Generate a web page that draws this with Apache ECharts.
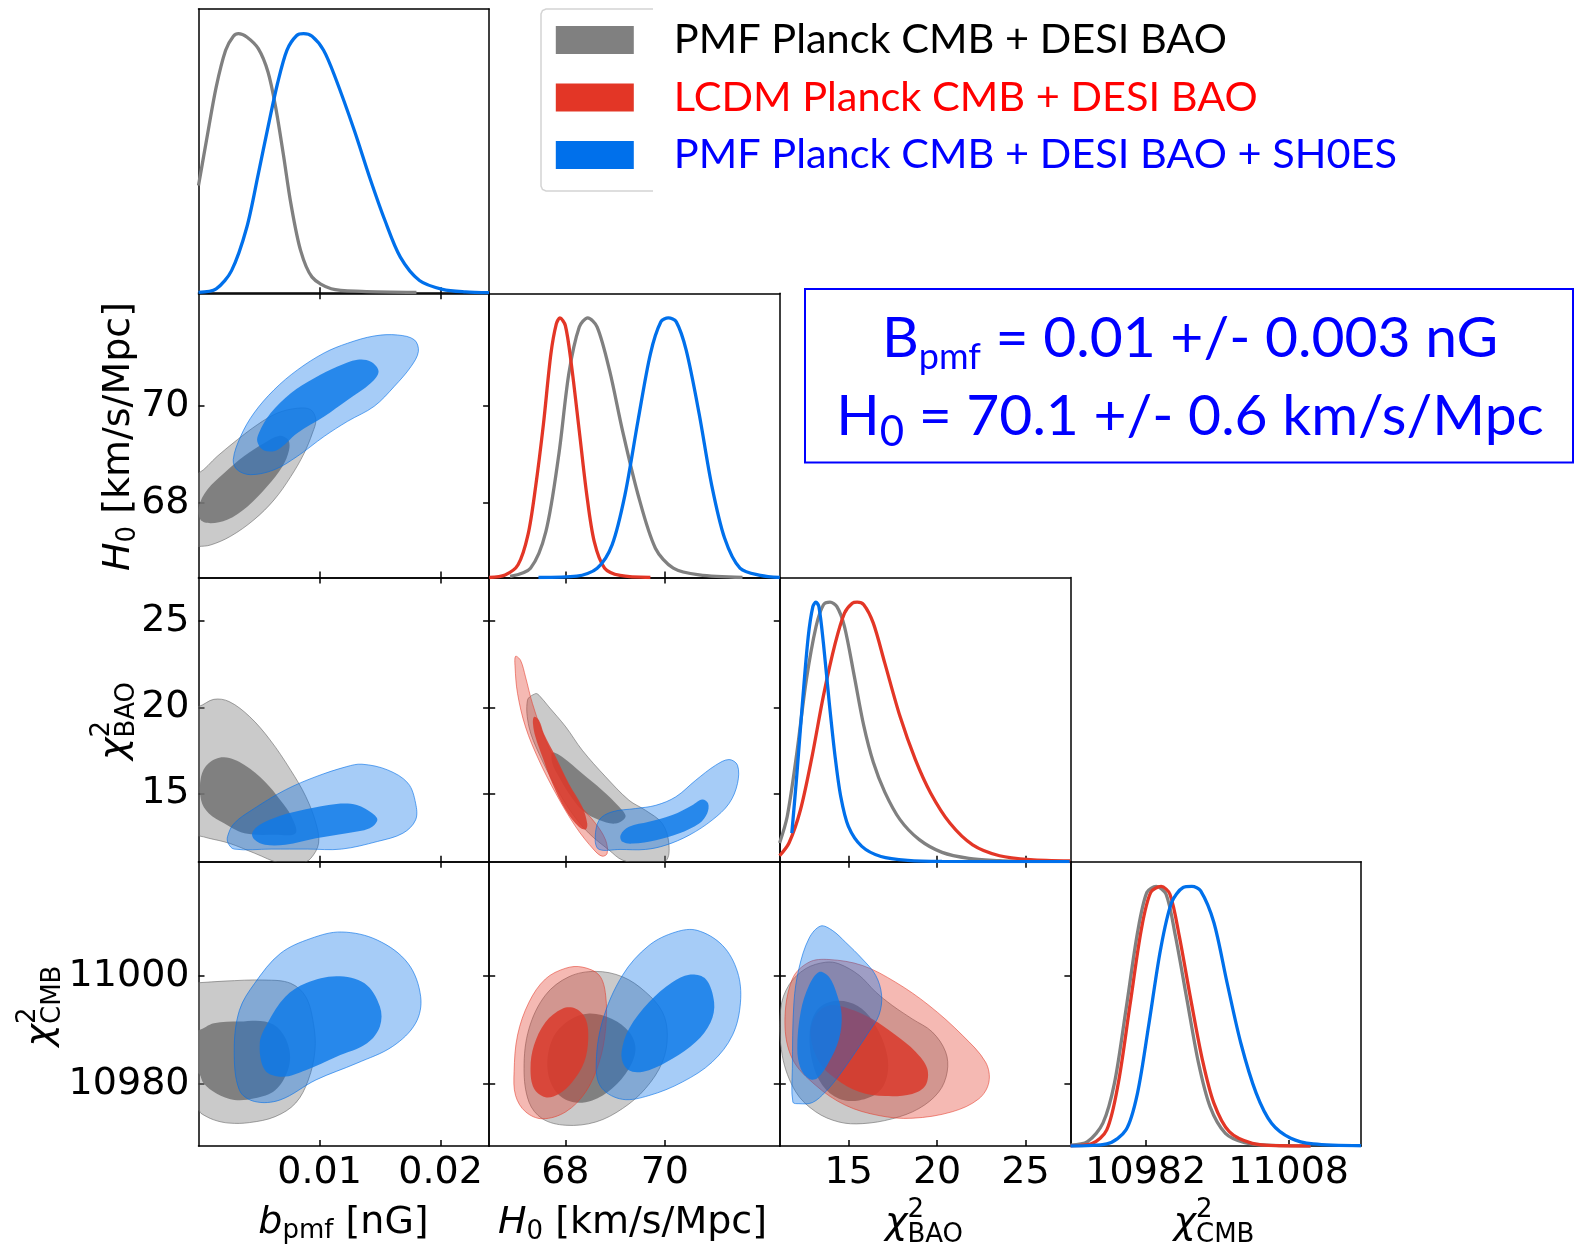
<!DOCTYPE html>
<html><head><meta charset="utf-8">
<script src="https://cdn.jsdelivr.net/npm/echarts@6/dist/echarts.min.js"></script>
<style>html,body{margin:0;padding:0;background:#fff}#c{width:1574px;height:1248px}</style>
</head><body><div id="c"></div>
<script>
// ---------------- data ----------------
const seriesNames = ['PMF Planck CMB + DESI BAO', 'LCDM Planck CMB + DESI BAO', 'PMF Planck CMB + DESI BAO + SH0ES'];
const legendTextColors = ['#000000', '#ff0000', '#0000ff'];

const bpmfTicks = [0.01, 0.02];
const h0Ticks = [68, 70];
const chiBaoTicks = [15, 20, 25];
const chiCmbTicksX = [10982, 11008];
const chiCmbTicksY = [10980, 11000];

const bpmfRange = [0, 0.024];
const h0RangeX = [66.47, 72.31];
const h0RangeY = [66.46, 72.32];
const baoRangeX = [11.10, 27.54];
const baoRangeY = [11.05, 27.52];
const cmbRangeX = [10968.3, 11021.2];
const cmbRangeY = [10968.46, 11021.1];
const pdfMax = 1.095;

// 1D marginals (normalised to peak 1)
const pdf_bpmf_pmf = [[0,0.415],[0.00066,0.589],[0.00146,0.794],[0.00224,0.936],[0.00288,0.99],[0.0033,1.0],[0.00399,0.987],[0.00494,0.942],[0.00574,0.852],[0.00637,0.717],[0.0070,0.537],[0.00763,0.345],[0.00843,0.165],[0.00938,0.062],[0.01096,0.017],[0.01349,0.007],[0.018,0.003]];
const pdf_bpmf_shoes = [[0,0.003],[0.00146,0.017],[0.00273,0.087],[0.00399,0.254],[0.00494,0.46],[0.00574,0.64],[0.00652,0.807],[0.0073,0.936],[0.00811,0.993],[0.00868,1.0],[0.00938,0.99],[0.01033,0.936],[0.01128,0.833],[0.01287,0.627],[0.01413,0.447],[0.0154,0.28],[0.01667,0.139],[0.01825,0.049],[0.02015,0.015],[0.02205,0.005],[0.024,0.002]];

const pdf_h0_lcdm = [[66.47,0.0],[66.79,0.01],[67.05,0.049],[67.25,0.165],[67.40,0.346],[67.56,0.591],[67.71,0.862],[67.82,0.978],[67.89,1.0],[68.0,0.971],[68.12,0.823],[68.28,0.565],[68.43,0.32],[68.58,0.139],[68.79,0.036],[69.10,0.008],[69.71,0.0]];
const pdf_h0_pmf = [[66.89,0.004],[67.30,0.036],[67.61,0.178],[67.87,0.475],[68.07,0.785],[68.28,0.965],[68.45,1.0],[68.64,0.965],[68.89,0.797],[69.15,0.565],[69.46,0.32],[69.81,0.113],[70.17,0.036],[70.69,0.01],[71.56,0.0]];
const pdf_h0_shoes = [[67.46,0.0],[68.23,0.005],[68.64,0.036],[68.94,0.126],[69.2,0.32],[69.46,0.604],[69.71,0.862],[69.92,0.985],[70.07,1.0],[70.23,0.985],[70.43,0.875],[70.69,0.63],[70.94,0.357],[71.2,0.152],[71.51,0.036],[71.92,0.008],[72.31,0.0]];

const pdf_bao_pmf = [[11.09,0.072],[11.52,0.174],[12.06,0.417],[12.6,0.70],[13.15,0.906],[13.57,0.99],[13.94,1.0],[14.33,0.983],[14.76,0.906],[15.31,0.716],[15.85,0.524],[16.39,0.383],[17.04,0.268],[17.9,0.162],[18.99,0.085],[20.28,0.036],[21.8,0.013],[23.53,0.004],[24.6,0.001]];
const pdf_bao_lcdm = [[11.09,0.023],[11.62,0.072],[12.27,0.2],[12.92,0.404],[13.57,0.64],[14.23,0.84],[14.76,0.958],[15.2,0.996],[15.48,1.0],[15.85,0.99],[16.39,0.919],[17.04,0.765],[17.9,0.56],[18.77,0.393],[19.63,0.265],[20.72,0.149],[22.01,0.065],[23.53,0.023],[25.26,0.008],[27.53,0.003]];
const pdf_bao_shoes = [[11.78,0.11],[12.06,0.332],[12.38,0.611],[12.71,0.868],[12.97,0.983],[13.14,1.0],[13.31,0.983],[13.57,0.84],[13.9,0.611],[14.23,0.404],[14.55,0.25],[14.98,0.136],[15.74,0.059],[16.82,0.02],[18.34,0.005],[20.28,0.001],[27.5,0.0]];

const pdf_cmb_pmf = [[10968.3,0.003],[10971.4,0.017],[10974.2,0.088],[10976.3,0.242],[10978.4,0.526],[10980.5,0.822],[10982.2,0.977],[10983.9,1.0],[10985.7,0.97],[10987.4,0.809],[10989.5,0.564],[10991.6,0.32],[10993.7,0.152],[10996.5,0.049],[11000.0,0.013],[11004.2,0.003],[11012,0.0]];
const pdf_cmb_lcdm = [[10968.3,0.001],[10972.1,0.008],[10974.9,0.062],[10977.0,0.242],[10979.1,0.539],[10981.2,0.835],[10982.9,0.977],[10984.8,1.0],[10986.4,0.97],[10988.1,0.809],[10990.2,0.564],[10992.3,0.333],[10994.4,0.165],[10997.2,0.055],[11001.4,0.01],[11006.3,0.001],[11012,0.0]];
const pdf_cmb_shoes = [[10968.3,0.0],[10974.9,0.008],[10978.4,0.062],[10980.5,0.204],[10982.6,0.474],[10984.7,0.758],[10986.7,0.938],[10988.8,0.996],[10990.4,1.0],[10992.0,0.983],[10994.4,0.861],[10996.8,0.629],[10999.3,0.397],[11002.1,0.204],[11004.9,0.088],[11008.4,0.03],[11012.5,0.008],[11021.2,0.001]];

// 2D contours (68% = 1s, 95% = 2s), vertices in data units
// b_pmf vs H0
const c_bh_pmf_2s = [[-0.001,67.10],[-0.001,68.61],[0,68.61],[0.00155,68.96],[0.0032,69.30],[0.00486,69.61],[0.00651,69.85],[0.00817,69.95],[0.00927,69.92],[0.00969,69.71],[0.00941,69.44],[0.00872,69.02],[0.00762,68.54],[0.00624,68.06],[0.00458,67.65],[0.00265,67.31],[0.00099,67.13],[0,67.10]];
const c_bh_pmf_1s = [[0.00003,67.92],[0.00072,68.27],[0.0021,68.61],[0.00375,68.96],[0.00541,69.23],[0.00665,69.38],[0.0074,69.30],[0.00748,69.09],[0.00693,68.75],[0.00568,68.34],[0.00403,67.92],[0.00237,67.65],[0.00099,67.58],[0.00017,67.65]];
const c_bh_shoes_2s = [[0.00287,68.89],[0.0032,68.68],[0.0043,68.58],[0.00624,68.68],[0.00817,68.96],[0.01038,69.37],[0.01231,69.68],[0.01451,69.99],[0.01617,70.40],[0.01755,70.81],[0.01816,71.12],[0.01783,71.36],[0.01645,71.46],[0.01451,71.44],[0.01231,71.29],[0.01038,71.09],[0.00817,70.74],[0.00624,70.33],[0.00458,69.85],[0.00348,69.37]];
const c_bh_shoes_1s = [[0.00486,69.26],[0.00541,69.08],[0.00651,69.09],[0.00817,69.44],[0.01038,69.78],[0.01231,70.12],[0.01424,70.47],[0.01487,70.71],[0.01424,70.91],[0.01313,70.95],[0.01148,70.81],[0.00955,70.57],[0.00762,70.26],[0.00596,69.85],[0.00499,69.44]];
// b_pmf vs chi2_BAO
const c_bb_pmf_2s = [[-0.001,12.55],[-0.001,20.04],[0,20.04],[0.00127,20.46],[0.00253,20.33],[0.00422,19.46],[0.00591,18.11],[0.0076,16.37],[0.00886,14.83],[0.0097,13.28],[0.00992,12.12],[0.00928,11.25],[0.0085,10.95],[0.0068,10.95],[0.00464,11.54],[0.00253,12.12],[0.00084,12.41],[0,12.55]];
const c_bb_pmf_1s = [[0.00021,15.98],[0.00084,16.76],[0.00211,17.10],[0.0038,16.66],[0.00549,15.69],[0.00675,14.63],[0.00768,13.67],[0.00802,12.70],[0.00633,12.61],[0.0038,12.70],[0.00211,13.28],[0.00084,13.86],[0.00021,14.63]];
const c_bb_shoes_2s = [[0.0024,12.51],[0.00295,13.28],[0.00464,14.15],[0.00717,15.21],[0.0097,15.98],[0.01224,16.56],[0.0135,16.70],[0.01561,16.37],[0.0173,15.60],[0.01793,14.44],[0.01793,13.47],[0.01688,12.70],[0.01477,12.22],[0.01181,11.78],[0.009,11.78],[0.006,11.78],[0.00295,11.78],[0.00245,12.12]];
const c_bb_shoes_1s = [[0.00443,12.70],[0.00506,13.19],[0.00675,13.71],[0.00886,14.09],[0.01139,14.40],[0.01308,14.34],[0.01435,13.86],[0.01477,13.47],[0.01414,12.99],[0.01224,12.70],[0.0097,12.41],[0.00717,12.03],[0.00549,12.03],[0.00464,12.32]];
// H0 vs chi2_BAO
const c_hb_pmf_2s = [[67.40,20.79],[67.24,20.41],[67.27,18.86],[67.47,17.32],[67.81,15.39],[68.14,13.84],[68.48,12.68],[68.88,11.72],[69.15,11.14],[69.6,10.9],[70.02,11.10],[70.08,12.10],[69.95,13.26],[69.61,14.03],[69.28,14.61],[68.81,15.97],[68.34,17.51],[68.01,18.86],[67.67,20.02],[67.47,20.70]];
const c_hb_pmf_1s = [[67.74,17.36],[67.94,17.12],[68.34,16.16],[68.74,15.19],[69.08,14.23],[69.21,13.65],[69.01,13.26],[68.68,13.46],[68.34,14.03],[68.07,15.0],[67.87,15.97],[67.74,16.74]];
const c_hb_lcdm_2s = [[67.0,22.95],[67.10,22.72],[67.20,21.76],[67.34,20.21],[67.60,18.09],[67.94,16.16],[68.27,14.42],[68.61,13.26],[68.81,12.30],[68.84,11.53],[68.74,11.37],[68.58,11.72],[68.21,13.07],[67.81,15.0],[67.47,16.93],[67.20,18.86],[67.04,20.79],[66.99,22.34]];
const c_hb_lcdm_1s = [[67.37,19.44],[67.47,19.25],[67.57,18.47],[67.81,17.12],[68.07,15.58],[68.34,14.23],[68.44,13.26],[68.41,12.92],[68.27,13.07],[68.01,14.03],[67.74,15.58],[67.54,17.12],[67.40,18.28],[67.35,19.05]];
const c_hb_shoes_2s = [[68.60,12.30],[68.68,13.46],[68.94,13.94],[69.41,14.13],[69.82,14.32],[70.22,14.81],[70.62,15.77],[71.02,16.64],[71.29,16.97],[71.46,16.64],[71.46,15.58],[71.29,14.42],[70.95,13.46],[70.49,12.59],[70.02,12.01],[69.61,11.76],[69.1,11.76],[68.68,11.76]];
const c_hb_shoes_1s = [[69.11,12.59],[69.28,13.07],[69.68,13.36],[70.15,13.75],[70.55,14.32],[70.75,14.65],[70.87,14.42],[70.85,13.84],[70.69,13.26],[70.28,12.68],[69.82,12.30],[69.35,12.10],[69.15,12.20]];
// b_pmf vs chi2_CMB
const c_bc_pmf_2s = [[-0.001,10975.1],[-0.001,10998.7],[0,10998.7],[0.00211,10999.0],[0.00549,10999.2],[0.0076,10998.6],[0.00886,10996.1],[0.00949,10991.2],[0.00962,10986.2],[0.00907,10980.7],[0.00802,10976.4],[0.00633,10973.9],[0.00422,10972.8],[0.00253,10972.7],[0.00127,10973.3],[0.00021,10974.5],[0,10975.1]];
const c_bc_pmf_1s = [[-0.001,10981.9],[-0.001,10989.9],[0,10989.9],[0.00127,10991.2],[0.00338,10991.5],[0.00549,10991.5],[0.00675,10989.9],[0.00751,10986.2],[0.00738,10982.5],[0.00633,10978.8],[0.00464,10977.3],[0.00295,10977.0],[0.00148,10978.2],[0.00042,10980.1],[0,10981.9]];
const c_bc_shoes_2s = [[0.00295,10986.2],[0.00338,10993.6],[0.00464,10998.6],[0.00675,11004.1],[0.00928,11006.9],[0.01181,11008.1],[0.01477,11006.6],[0.0173,11002.3],[0.01835,10996.1],[0.01793,10991.2],[0.01603,10986.9],[0.01308,10983.8],[0.0097,10980.7],[0.00675,10977.0],[0.00464,10976.7],[0.00338,10978.8]];
const c_bc_shoes_1s = [[0.00506,10987.5],[0.0057,10991.2],[0.00717,10996.1],[0.00886,10998.6],[0.01139,10999.9],[0.01371,10998.6],[0.01498,10994.3],[0.01498,10990.6],[0.01392,10987.5],[0.01139,10985.0],[0.00886,10982.5],[0.00696,10981.3],[0.00549,10982.5]];
// H0 vs chi2_CMB
const c_hc_pmf_2s = [[67.17,10982.8],[67.27,10990.2],[67.60,10996.4],[68.07,10999.8],[68.61,11000.8],[69.15,10999.8],[69.61,10997.0],[69.95,10993.3],[70.05,10989.0],[69.95,10984.0],[69.61,10979.1],[69.15,10975.4],[68.61,10972.9],[68.01,10972.3],[67.54,10973.5],[67.27,10976.6]];
const c_hc_pmf_1s = [[67.64,10982.8],[67.74,10988.3],[68.07,10991.7],[68.48,10993.0],[68.94,10992.0],[69.28,10989.6],[69.41,10986.5],[69.28,10982.8],[68.94,10979.1],[68.54,10976.9],[68.14,10976.6],[67.81,10978.5]];
const c_hc_lcdm_2s = [[66.97,10982.2],[67.04,10989.0],[67.27,10995.1],[67.60,10999.4],[68.01,11001.4],[68.34,11001.6],[68.68,11000.1],[68.81,10996.4],[68.81,10990.2],[68.68,10984.0],[68.41,10978.5],[68.01,10974.8],[67.54,10973.5],[67.20,10974.8],[67.00,10977.8]];
const c_hc_lcdm_1s = [[67.30,10982.8],[67.37,10987.1],[67.60,10991.4],[67.94,10993.9],[68.21,10993.9],[68.41,10992.0],[68.46,10988.3],[68.38,10984.0],[68.14,10980.3],[67.87,10978.1],[67.60,10977.5],[67.37,10979.1]];
const c_hc_shoes_2s = [[68.62,10982.8],[68.74,10991.4],[69.15,11000.1],[69.68,11005.6],[70.22,11008.1],[70.65,11008.4],[71.16,11005.6],[71.46,11000.7],[71.52,10995.1],[71.36,10989.0],[70.95,10984.0],[70.35,10980.3],[69.68,10977.8],[69.15,10977.1],[68.74,10979.1]];
const c_hc_shoes_1s = [[69.13,10985.9],[69.28,10990.2],[69.68,10995.1],[70.15,10998.8],[70.49,11000.2],[70.82,10999.4],[70.99,10995.1],[70.92,10991.4],[70.62,10987.7],[70.15,10984.6],[69.68,10982.5],[69.35,10982.2],[69.18,10983.4]];
// chi2_BAO vs chi2_CMB
const c_bcm_pmf_2s = [[11.15,10993.9],[11.62,10998.3],[12.56,11001.3],[13.69,11002.5],[14.45,11002.2],[15.58,11000.1],[16.52,10997.0],[17.46,10994.5],[18.59,10992.0],[19.72,10989.6],[20.48,10985.9],[20.57,10982.2],[20.10,10978.5],[18.97,10975.4],[17.46,10973.5],[15.76,10972.6],[14.45,10972.9],[13.13,10974.8],[12.0,10978.5],[11.24,10985.2]];
const c_bcm_pmf_1s = [[12.79,10989.6],[13.13,10993.3],[13.88,10995.1],[15.01,10995.1],[15.95,10993.3],[16.71,10989.6],[17.18,10985.2],[17.18,10981.5],[16.71,10978.5],[15.58,10976.9],[14.45,10977.2],[13.51,10979.7],[12.94,10984.0]];
const c_bcm_lcdm_2s = [[11.39,10991.4],[11.81,10999.4],[12.75,11002.5],[13.88,11003.0],[15.77,11001.9],[17.65,10998.8],[19.54,10994.5],[21.42,10989.0],[22.74,10984.0],[22.93,10980.3],[22.36,10977.2],[20.85,10974.8],[18.59,10973.6],[16.71,10974.1],[14.82,10976.0],[13.13,10979.7],[11.81,10984.6]];
const c_bcm_lcdm_1s = [[12.84,10989.0],[13.13,10992.7],[13.88,10994.5],[15.01,10993.9],[16.33,10992.0],[17.65,10989.0],[18.78,10985.9],[19.44,10982.8],[19.35,10979.7],[18.59,10978.1],[17.08,10977.7],[15.58,10978.5],[14.26,10980.9],[13.32,10984.0]];
const c_bcm_shoes_2s = [[11.84,10976.6],[11.81,10982.8],[11.90,10995.1],[12.18,11001.3],[12.75,11006.9],[13.41,11009.2],[14.07,11008.4],[14.82,11006.2],[15.77,11003.1],[16.52,11000.1],[16.86,10996.4],[16.71,10992.7],[16.14,10989.6],[15.39,10985.9],[14.45,10981.5],[13.69,10978.5],[12.94,10976.5],[12.18,10976.3]];
const c_bcm_shoes_1s = [[12.09,10986.5],[12.28,10993.3],[12.75,10998.2],[13.32,11000.7],[13.88,10999.8],[14.35,10996.4],[14.60,10992.7],[14.45,10988.3],[13.88,10984.0],[13.22,10981.0],[12.75,10980.9],[12.28,10982.8]];

// ---------------- layout / style ----------------
const colLeft = [198.5, 489.2, 779.8, 1070.5], panelW = 290.6;
const rowTop = [9, 293.3, 577.5, 861.8], panelH = 284.2;
const xRanges = [bpmfRange, h0RangeX, baoRangeX, cmbRangeX];
const yRanges = [null, h0RangeY, baoRangeY, cmbRangeY];
const xTicks = [bpmfTicks, h0Ticks, chiBaoTicks, chiCmbTicksX];
const yTicks = [null, h0Ticks, chiBaoTicks, chiCmbTicksY];

const lineCol = {pmf:'#808080', lcdm:'#e33626', shoes:'#0070eb'};
const fills = {
  pmf:   {o:'rgba(128,128,128,0.42)', os:'rgba(105,105,105,0.6)', i:'rgba(115,115,115,0.85)'},
  lcdm:  {o:'rgba(227,54,38,0.35)',   os:'rgba(227,54,38,0.55)',  i:'rgba(219,57,44,0.85)'},
  shoes: {o:'rgba(0,110,231,0.35)',   os:'rgba(0,110,231,0.6)',   i:'rgba(13,121,232,0.83)'}
};
const TICKFONT = 'DejaVu Sans';
const TICKSIZE = 38;

const panels = [];
for (let r = 0; r < 4; r++) for (let c = 0; c <= r; c++) panels.push({c, r});
const gi = (c, r) => r * (r + 1) / 2 + c;

const grids = [], xAxes = [], yAxes = [];
const blk = {color:'#000', width:1.5};
const lblFmt = v => String(v);
panels.forEach((p, g) => {
  const diag = p.c === p.r;
  grids.push({left: colLeft[p.c], top: rowTop[p.r], width: panelW, height: panelH, containLabel: false, show: false});
  const xr = xRanges[p.c];
  const bx = {type:'value', gridIndex:g, min:xr[0], max:xr[1], splitLine:{show:false}, axisLine:{show:true, onZero:false, lineStyle:blk}};
  xAxes.push(Object.assign({}, bx, {position:'bottom',
    axisTick:{show:true, inside:true, length:6, customValues:xTicks[p.c], lineStyle:blk},
    axisLabel:{show:p.r === 3, customValues:xTicks[p.c], formatter:lblFmt, fontFamily:TICKFONT, fontSize:TICKSIZE, color:'#000', margin:8}}));
  xAxes.push(Object.assign({}, bx, {position:'top',
    axisTick:{show:!diag, inside:true, length:6, customValues:xTicks[p.c], lineStyle:blk},
    axisLabel:{show:false}}));
  const yr = diag ? [0, pdfMax] : yRanges[p.r];
  const by = {type:'value', gridIndex:g, min:yr[0], max:yr[1], splitLine:{show:false}, axisLine:{show:true, onZero:false, lineStyle:blk}};
  if (diag) {
    yAxes.push(Object.assign({}, by, {position:'left', axisTick:{show:false}, axisLabel:{show:false}}));
    yAxes.push(Object.assign({}, by, {position:'right', axisTick:{show:false}, axisLabel:{show:false}}));
  } else {
    yAxes.push(Object.assign({}, by, {position:'left',
      axisTick:{show:true, inside:true, length:6, customValues:yTicks[p.r], lineStyle:blk},
      axisLabel:{show:p.c === 0, customValues:yTicks[p.r], formatter:lblFmt, fontFamily:TICKFONT, fontSize:TICKSIZE, color:'#000', margin:9}}));
    yAxes.push(Object.assign({}, by, {position:'right',
      axisTick:{show:true, inside:true, length:6, customValues:yTicks[p.r], lineStyle:blk},
      axisLabel:{show:false}}));
  }
});

const series = [];
function pdfLine(c, data, key, nameIdx) {
  const g = gi(c, c);
  series.push({type:'line', name: seriesNames[nameIdx], xAxisIndex:2*g, yAxisIndex:2*g, data,
    smooth:0.3, showSymbol:false, symbol:'none', clip:true, z:5, silent:true,
    lineStyle:{color:lineCol[key], width:3.3}, itemStyle:{color:lineCol[key]}});
}
function contour(c, r, pts, key, level) {
  const g = gi(c, r);
  const f = fills[key];
  const outer = level === 2;
  series.push({type:'custom', coordinateSystem:'cartesian2d', xAxisIndex:2*g, yAxisIndex:2*g,
    data: pts, encode:{x:0, y:1}, clip:true, silent:true, z:2,
    renderItem: function (params, api) {
      if (params.dataIndex !== 0) return null;
      const points = pts.map(q => api.coord(q));
      return {type:'polygon', shape:{points, smooth:0.35},
        style: outer ? {fill:f.o, stroke:f.os, lineWidth:1} : {fill:f.i, stroke:null, lineWidth:0}};
    }});
}

// 2D panels: gray, then red, then blue
contour(0,1,c_bh_pmf_2s,'pmf',2); contour(0,1,c_bh_pmf_1s,'pmf',1);
contour(0,1,c_bh_shoes_2s,'shoes',2); contour(0,1,c_bh_shoes_1s,'shoes',1);

contour(0,2,c_bb_pmf_2s,'pmf',2); contour(0,2,c_bb_pmf_1s,'pmf',1);
contour(0,2,c_bb_shoes_2s,'shoes',2); contour(0,2,c_bb_shoes_1s,'shoes',1);

contour(1,2,c_hb_pmf_2s,'pmf',2); contour(1,2,c_hb_pmf_1s,'pmf',1);
contour(1,2,c_hb_lcdm_2s,'lcdm',2); contour(1,2,c_hb_lcdm_1s,'lcdm',1);
contour(1,2,c_hb_shoes_2s,'shoes',2); contour(1,2,c_hb_shoes_1s,'shoes',1);

contour(0,3,c_bc_pmf_2s,'pmf',2); contour(0,3,c_bc_pmf_1s,'pmf',1);
contour(0,3,c_bc_shoes_2s,'shoes',2); contour(0,3,c_bc_shoes_1s,'shoes',1);

contour(1,3,c_hc_pmf_2s,'pmf',2); contour(1,3,c_hc_pmf_1s,'pmf',1);
contour(1,3,c_hc_lcdm_2s,'lcdm',2); contour(1,3,c_hc_lcdm_1s,'lcdm',1);
contour(1,3,c_hc_shoes_2s,'shoes',2); contour(1,3,c_hc_shoes_1s,'shoes',1);

contour(2,3,c_bcm_pmf_2s,'pmf',2); contour(2,3,c_bcm_pmf_1s,'pmf',1);
contour(2,3,c_bcm_lcdm_2s,'lcdm',2); contour(2,3,c_bcm_lcdm_1s,'lcdm',1);
contour(2,3,c_bcm_shoes_2s,'shoes',2); contour(2,3,c_bcm_shoes_1s,'shoes',1);

// 1D marginals
pdfLine(0, pdf_bpmf_pmf, 'pmf', 0); pdfLine(0, pdf_bpmf_shoes, 'shoes', 2);
pdfLine(1, pdf_h0_pmf, 'pmf', 0); pdfLine(1, pdf_h0_lcdm, 'lcdm', 1); pdfLine(1, pdf_h0_shoes, 'shoes', 2);
pdfLine(2, pdf_bao_pmf, 'pmf', 0); pdfLine(2, pdf_bao_lcdm, 'lcdm', 1); pdfLine(2, pdf_bao_shoes, 'shoes', 2);
pdfLine(3, pdf_cmb_pmf, 'pmf', 0); pdfLine(3, pdf_cmb_lcdm, 'lcdm', 1); pdfLine(3, pdf_cmb_shoes, 'shoes', 2);

// ---------------- composed text (sub/superscripts) ----------------
const mctx = document.createElement('canvas').getContext('2d');
function fontStr(p, fam) { return (p.it ? 'italic ' : '') + p.s + 'px "' + fam + '"'; }
function compose(parts, cx, by, rot, fill, fam) {
  let x = 0, prevStart = 0, prevW = 0;
  const items = [];
  parts.forEach(p => {
    const font = fontStr(p, fam);
    mctx.font = font; mctx.textBaseline = 'middle';
    const w = mctx.measureText(p.t).width;
    const mid = mctx.measureText('H').actualBoundingBoxDescent;
    let start;
    if (p.stack) { start = prevStart; const adv = Math.max(prevW, w); x = start + adv; prevW = adv; }
    else { start = x; x += w; prevStart = start; prevW = w; }
    items.push({p, start, font, mid});
  });
  const total = x;
  return {type:'group', x:cx, y:by, rotation:rot || 0, silent:true,
    children: items.map(({p, start, font, mid}) => ({type:'text', x: start - total / 2, y: (p.dy || 0) - mid,
      style:{text:p.t, font, fill, align:'left', verticalAlign:'middle', textAlign:'left', textVerticalAlign:'middle'}}))};
}

const nameBpmf = [{t:'b', s:38, it:1}, {t:'pmf', s:26, dy:5}, {t:' [nG]', s:38}];
const nameH0 = [{t:'H', s:38, it:1}, {t:'0', s:26, dy:6}, {t:' [km/s/Mpc]', s:38}];
const nameBao = [{t:'χ', s:38, it:1}, {t:'2', s:26, dy:-16}, {t:'BAO', s:26, dy:9, stack:1}];
const nameCmb = [{t:'χ', s:38, it:1}, {t:'2', s:26, dy:-16}, {t:'CMB', s:26, dy:9, stack:1}];
const boxLine1 = [{t:'B', s:57}, {t:'pmf', s:36, dy:12}, {t:' = 0.01 +/- 0.003 nG', s:57}];
const boxLine2 = [{t:'H', s:57}, {t:'0', s:42, dy:11}, {t:' = 70.1 +/- 0.6 km/s/Mpc', s:57}];

const F = 'DejaVu Sans';
const graphic = [
  {type:'polyline', silent:true, shape:{points:[[653,9],[546,9],[542.5,10.5],[541,14],[541,186],[542.5,189.5],[546,191],[653,191]]},
   style:{stroke:'#d4d4d4', lineWidth:1.5, fill:null}},
  {type:'rect', silent:true, shape:{x:805, y:289, width:768, height:173.5}, style:{fill:'transparent', stroke:'#0000ff', lineWidth:2}},
  compose(boxLine1, 1190, 357, 0, '#0000ff', 'Lato'),
  compose(boxLine2, 1190, 435, 0, '#0000ff', 'Lato'),
  compose(nameBpmf, 343.5, 1233, 0, '#000', F),
  compose(nameH0, 632.5, 1233, 0, '#000', F),
  compose(nameBao, 924, 1233, 0, '#000', F),
  compose(nameCmb, 1214, 1233, 0, '#000', F),
  compose(nameH0, 129, 436.5, Math.PI / 2, '#000', F),
  compose(nameBao, 125, 721, Math.PI / 2, '#000', F),
  compose(nameCmb, 51, 1006, Math.PI / 2, '#000', F)
];

const option = {
  backgroundColor:'#ffffff',
  animation:false,
  grid: grids, xAxis: xAxes, yAxis: yAxes, series,
  legend: {orient:'vertical', left:555.8, top:19, padding:0, itemWidth:78, itemHeight:28, itemGap:15.5,
    icon:'rect', selectedMode:false,
    textStyle:{fontFamily:'Lato', fontSize:41.5, padding:[0,0,0,35]},
    data: seriesNames.map((n, i) => ({name:n, icon:'rect', itemStyle:{color:[lineCol.pmf, lineCol.lcdm, lineCol.shoes][i]}, textStyle:{color:legendTextColors[i]}}))},
  graphic
};
const chart = echarts.init(document.getElementById('c'), null, {renderer:'canvas', width:1574, height:1248});
chart.setOption(option);
</script>
</body></html>
